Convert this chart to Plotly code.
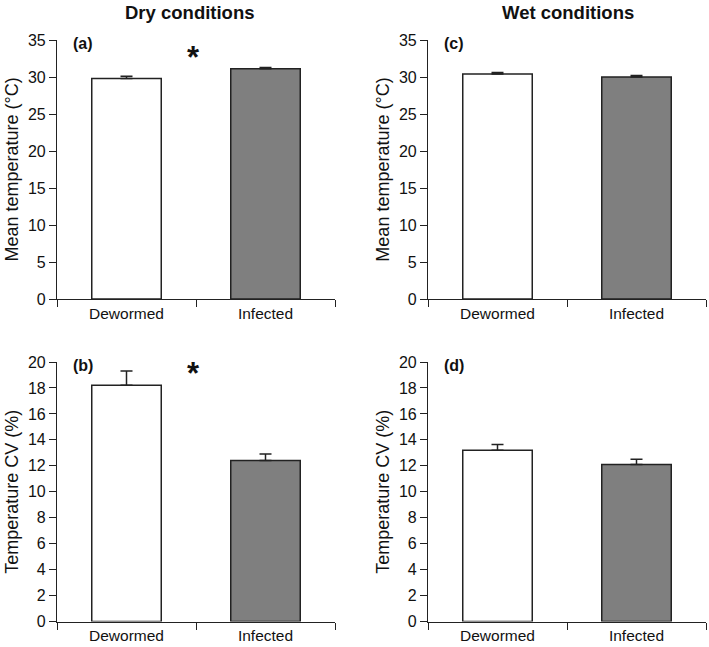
import plotly.graph_objects as go

groups = ["Dewormed", "Infected"]
dry_mean_temp = [29.8, 31.1]
dry_mean_temp_err = [0.3, 0.2]
dry_cv = [18.2, 12.4]
dry_cv_err = [1.1, 0.5]
wet_mean_temp = [30.4, 30.0]
wet_mean_temp_err = [0.2, 0.2]
wet_cv = [13.2, 12.1]
wet_cv_err = [0.45, 0.4]
temp_ticks = [0, 5, 10, 15, 20, 25, 30, 35]
cv_ticks = [0, 2, 4, 6, 8, 10, 12, 14, 16, 18, 20]

FONT = "Liberation Sans, Arial, Helvetica, sans-serif"
fills = ["white", "#7f7f7f"]

W, H = 709, 647
def px(x0, x1):
    return [x0 / W, x1 / W]
def py(top, bottom):
    return [1 - bottom / H, 1 - top / H]

panels = [
    ("x", "y", dry_mean_temp, dry_mean_temp_err, px(57, 335), py(40, 299), 35, temp_ticks, "Mean temperature (°C)", "(a)", 32.6),
    ("x2", "y2", wet_mean_temp, wet_mean_temp_err, px(428, 706), py(40, 299), 35, temp_ticks, "Mean temperature (°C)", "(c)", None),
    ("x3", "y3", dry_cv, dry_cv_err, px(57, 335), py(362, 621.5), 20, cv_ticks, "Temperature CV (%)", "(b)", 19.15),
    ("x4", "y4", wet_cv, wet_cv_err, px(428, 706), py(362, 621.5), 20, cv_ticks, "Temperature CV (%)", "(d)", None),
]

fig = go.Figure()
annotations = []
layout = {}
for xa, ya, vals, errs, xd, yd, ymax, ticks, ytitle, label, star in panels:
    fig.add_trace(go.Bar(
        x=groups, y=vals, xaxis=xa, yaxis=ya, width=0.5,
        marker=dict(color=fills, line=dict(color="#222", width=1.5)),
        error_y=dict(type="data", array=errs, arrayminus=[0, 0], symmetric=False,
                     color="#222", thickness=1.5, width=6),
        showlegend=False, hoverinfo="skip",
    ))
    xkey = "xaxis" + xa[1:]
    ykey = "yaxis" + ya[1:]
    layout[xkey] = dict(
        domain=xd, anchor=ya, type="category", range=[-0.5, 1.5], automargin=False,
        showline=True, linecolor="#222", linewidth=1.2,
        ticks="outside", tickson="boundaries", ticklen=7, tickcolor="#222", tickwidth=1.2,
        showgrid=False, zeroline=False,
        tickfont=dict(family=FONT, size=15.5, color="#111"),
    )
    layout[ykey] = dict(
        domain=yd, anchor=xa, range=[0, ymax], tickvals=ticks, automargin=False,
        showline=True, linecolor="#222", linewidth=1.2,
        ticks="outside", ticklen=7, tickcolor="#222", tickwidth=1.2,
        showgrid=False, zeroline=False,
        tickfont=dict(family=FONT, size=16, color="#111"),
        title=dict(text=ytitle, font=dict(family=FONT, size=18, color="#111"), standoff=4),
    )
    annotations.append(dict(
        text="<b>" + label + "</b>", xref=xa, yref=ya, x=-0.4, y=ymax * 0.985,
        xanchor="left", yanchor="middle", showarrow=False,
        font=dict(family=FONT, size=16, color="#111"),
    ))
    if star is not None:
        annotations.append(dict(
            text="<b>*</b>", xref=xa, yref=ya, x=0.48, y=star,
            xanchor="center", yanchor="middle", showarrow=False,
            font=dict(family=FONT, size=31, color="#111"),
        ))

annotations.append(dict(text="<b>Dry conditions</b>", xref="paper", yref="paper",
                        x=190 / W, y=1 - 12 / H, xanchor="center", yanchor="middle",
                        showarrow=False, font=dict(family=FONT, size=18.5, color="#111")))
annotations.append(dict(text="<b>Wet conditions</b>", xref="paper", yref="paper",
                        x=568 / W, y=1 - 12 / H, xanchor="center", yanchor="middle",
                        showarrow=False, font=dict(family=FONT, size=18.5, color="#111")))

fig.update_layout(
    width=W, height=H, margin=dict(l=0, r=0, t=0, b=0, autoexpand=False),
    paper_bgcolor="white", plot_bgcolor="white",
    annotations=annotations, **layout,
)
fig.write_html("out.html", config={"displayModeBar": False},
               post_script="document.body.style.margin='0';document.body.style.overflow='hidden';")
